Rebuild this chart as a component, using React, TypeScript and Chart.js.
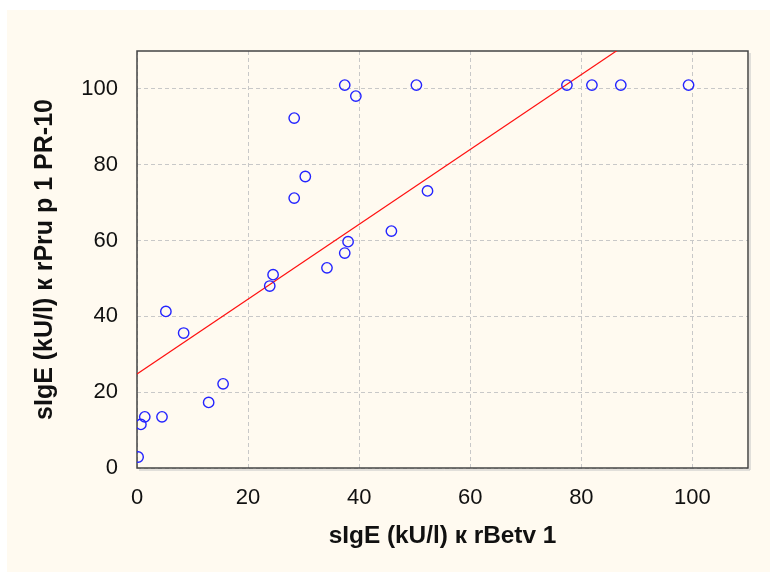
import React, { useEffect, useRef } from "react";
import { Chart, registerables } from "chart.js";

Chart.register(...registerables);

const xValues = [0.2, 0.7, 1.4, 4.5, 12.9, 15.5, 5.2, 8.4, 23.9, 24.5, 34.2, 37.4, 38.0, 45.8, 52.3, 28.3, 30.3, 28.3, 37.4, 39.4, 50.3, 77.4, 81.9, 87.1, 99.3];
const yValues = [2.9, 11.5, 13.5, 13.5, 17.3, 22.2, 41.3, 35.6, 48.0, 51.0, 52.8, 56.7, 59.7, 62.5, 73.1, 71.2, 76.9, 92.3, 101, 98.1, 101, 101, 101, 101, 101];
const fitX = [0, 110];
const fitY = [24.8, 133.4];
const tickValues = [0, 20, 40, 60, 80, 100];
const xTitle = "sIgE (kU/l) к rBetv 1";
const yTitle = "sIgE (kU/l) к rPru p 1 PR-10";
const axisMin = 0;
const axisMax = 110;

const W = 763;
const H = 562;

const framePlugin = {
  id: "frame",
  beforeDatasetsDraw(chart: any) {
    const { ctx, chartArea: a } = chart;
    ctx.save();
    ctx.strokeStyle = "#c4c4c4";
    ctx.lineWidth = 1;
    ctx.beginPath();
    ctx.moveTo(a.right + 2, a.top + 2);
    ctx.lineTo(a.right + 2, a.bottom + 2);
    ctx.lineTo(a.left + 2, a.bottom + 2);
    ctx.stroke();
    ctx.strokeStyle = "#444444";
    ctx.lineWidth = 1.5;
    ctx.strokeRect(a.left, a.top, a.right - a.left, a.bottom - a.top);
    ctx.restore();
  },
};

export default function App() {
  const ref = useRef<HTMLCanvasElement>(null);
  useEffect(() => {
    if (!ref.current) return;
    const points = xValues.map((x, i) => ({ x, y: yValues[i] }));
    const fit = fitX.map((x, i) => ({ x, y: fitY[i] }));
    const tickFont = { family: "'Liberation Sans', Arial, sans-serif", size: 22 };
    const xTitleFont = { family: "'Liberation Sans', Arial, sans-serif", size: 24.4, weight: "bold" as const };
    const yTitleFont = { family: "'Liberation Sans', Arial, sans-serif", size: 25, weight: "bold" as const };
    const setTicks = (s: any) => {
      s.ticks = tickValues.map((v) => ({ value: v }));
    };
    const chart = new Chart(ref.current, {
      type: "scatter",
      data: {
        datasets: [
          {
            label: "fit",
            data: fit,
            showLine: true,
            borderColor: "#ff1010",
            borderWidth: 1.2,
            pointRadius: 0,
            order: 2,
          },
          {
            label: "data",
            data: points,
            pointStyle: "circle",
            pointRadius: 5.2,
            pointBorderWidth: 1.4,
            pointBorderColor: "#2323ff",
            pointBackgroundColor: "rgba(0,0,0,0)",
            order: 1,
          },
        ],
      },
      options: {
        responsive: false,
        animation: false,
        layout: { padding: { top: 41, right: 22, left: 0, bottom: 0 } },
        plugins: {
          legend: { display: false },
          tooltip: { enabled: false },
        },
        scales: {
          x: {
            type: "linear",
            min: axisMin,
            max: axisMax,
            afterBuildTicks: setTicks,
            afterFit: (s: any) => {
              s.height = 104;
            },
            ticks: { color: "#111", font: tickFont, padding: 17, maxRotation: 0, autoSkip: false },
            grid: { color: "#c8c8c8", lineWidth: 1, drawTicks: false },
            border: { display: false, dash: [4, 3] },
            title: { display: true, text: xTitle, color: "#111", font: xTitleFont, padding: { top: 0, bottom: 21 } },
          },
          y: {
            type: "linear",
            min: axisMin,
            max: axisMax,
            afterBuildTicks: setTicks,
            afterFit: (s: any) => {
              s.width = 130;
            },
            ticks: { color: "#111", font: tickFont, padding: 19, autoSkip: false },
            grid: { color: "#c8c8c8", lineWidth: 1, drawTicks: false },
            border: { display: false, dash: [4, 3] },
            title: { display: true, text: yTitle, color: "#111", font: yTitleFont, padding: { top: 23, bottom: 0 } },
          },
        },
      },
      plugins: [framePlugin],
    });
    return () => chart.destroy();
  }, []);
  return (
    <div style={{ position: "fixed", left: 7, top: 10, width: W, height: H, background: "#fffaf0" }}>
      <canvas ref={ref} width={W} height={H} style={{ display: "block" }} />
    </div>
  );
}
